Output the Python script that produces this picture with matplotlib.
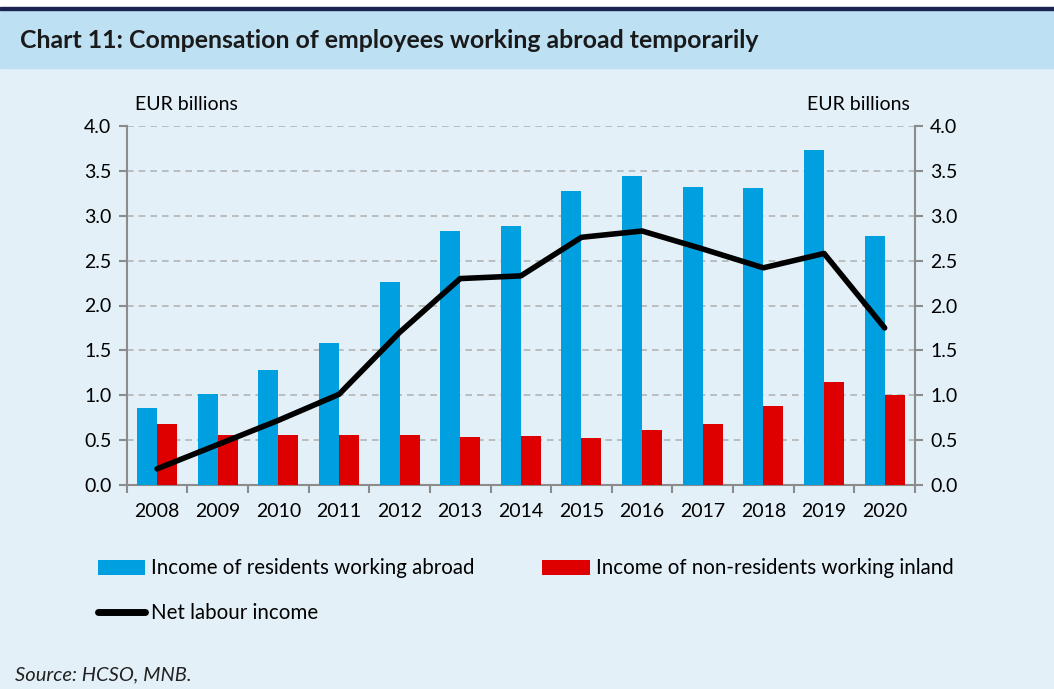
import matplotlib.pyplot as plt
import numpy as np
from matplotlib.patches import Rectangle

plt.rcParams['font.family'] = ['Lato', 'DejaVu Sans']

years = ['2008', '2009', '2010', '2011', '2012', '2013', '2014',
         '2015', '2016', '2017', '2018', '2019', '2020']
residents_abroad = [0.86, 1.01, 1.28, 1.58, 2.26, 2.83, 2.89, 3.28, 3.44, 3.32, 3.31, 3.73, 2.77]
nonresidents_inland = [0.68, 0.56, 0.56, 0.56, 0.56, 0.535, 0.546, 0.52, 0.61, 0.68, 0.88, 1.15, 1.00]
net_income = [0.18, 0.45, 0.72, 1.01, 1.70, 2.30, 2.33, 2.76, 2.83, 2.63, 2.42, 2.58, 1.75]

bg = '#E3F0F7'
band = '#BDE0F2'
blue = '#009FE0'
red = '#DE0000'
axcol = '#8C8C8C'
fs = 14

fig = plt.figure(figsize=(10.54, 6.89), dpi=100, facecolor='white')
# background panel and title band
fig.patches.append(Rectangle((0, 0), 1, 1 - 10/689, transform=fig.transFigure, color=bg, zorder=-10))
fig.patches.append(Rectangle((0, 1 - 68/689), 1, 58/689, transform=fig.transFigure, color=band, zorder=-9))
fig.patches.append(Rectangle((0, 1 - 10/689), 1, 3/689, transform=fig.transFigure, color='#1B2450', zorder=-8))
fig.text(20/1054, 1 - 41/689, 'Chart 11: Compensation of employees working abroad temporarily',
         fontsize=17.9, fontweight='bold', color='#1a1a1a', va='center', ha='left')

ax = fig.add_axes([126.7/1054, 1 - 485/689, (915 - 126.7)/1054, (485 - 126)/689])
ax.set_facecolor(bg)
x = np.arange(len(years))
w = 0.33
b1 = ax.bar(x - w/2, residents_abroad, w, color=blue, zorder=3)
b2 = ax.bar(x + w/2, nonresidents_inland, w, color=red, zorder=3)
l1, = ax.plot(x, net_income, color='black', linewidth=4, zorder=4, solid_capstyle='round')

ticks = np.arange(0, 4.01, 0.5)
ax.set_xlim(-0.5, len(years) - 0.5)
ax.set_ylim(0, 4.0)
ax.set_yticks(ticks)
ax.set_yticklabels([f'{v:.1f}' for v in ticks])
ax.yaxis.grid(True, linestyle=(0, (4, 3)), color='#B4B4B4', linewidth=1.2, zorder=0)
ax.set_xticks(x)
ax.set_xticklabels(years)
ax.set_xticks(np.arange(-0.5, len(years), 1), minor=True)
ax.tick_params(axis='x', which='major', length=0, pad=13, labelsize=fs)
ax.tick_params(axis='x', which='minor', length=6, color=axcol, width=1.5, direction='out')
ax.tick_params(axis='y', labelsize=fs, length=6, color=axcol, width=1.5, direction='out', pad=5)
for s in ['left', 'right', 'bottom']:
    ax.spines[s].set_color(axcol)
    ax.spines[s].set_linewidth(1.5)
ax.spines['top'].set_visible(False)

ax2 = ax.twinx()
ax2.set_ylim(0, 4.0)
ax2.set_yticks(ticks)
ax2.set_yticklabels([f'{v:.1f}' for v in ticks])
ax2.tick_params(axis='y', labelsize=fs, length=6, color=axcol, width=1.5, direction='out', pad=5)
for s in ax2.spines.values():
    s.set_visible(False)

fig.text(135/1054, 1 - 105/689, 'EUR billions', fontsize=fs, va='center', ha='left')
fig.text(910/1054, 1 - 105/689, 'EUR billions', fontsize=fs, va='center', ha='right')

lfs = 14.8
leg = fig.legend([b1, l1, b2],
                 ['Income of residents working abroad', 'Net labour income',
                  'Income of non-residents working inland'],
                 ncol=2, loc='upper left', bbox_to_anchor=(79/1054, 1 - 540/689),
                 frameon=False, fontsize=lfs, handlelength=2.3, handletextpad=0.3,
                 columnspacing=3.3, labelspacing=1.2)
for h in leg.legend_handles:
    if hasattr(h, 'set_linewidth') and not hasattr(h, 'get_height'):
        h.set_linewidth(5)

fig.text(15/1054, 1 - 675/689, 'Source: HCSO, MNB.', fontsize=14.5, style='italic',
         va='center', ha='left', color='#222222')

fig.savefig('out.png', dpi=100, facecolor='white')
